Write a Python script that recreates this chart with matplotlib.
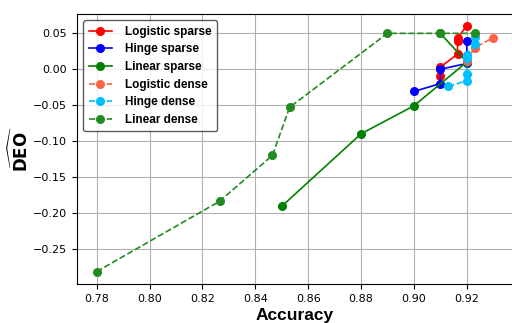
import matplotlib
matplotlib.use('Agg')
import matplotlib.pyplot as plt

# accuracy / DEO pairs
log_sparse_acc = [0.91, 0.91, 0.9165, 0.9165, 0.9165, 0.92]
log_sparse_deo = [-0.010, 0.003, 0.021, 0.040, 0.044, 0.060]
hinge_sparse_acc = [0.90, 0.91, 0.91, 0.92, 0.92]
hinge_sparse_deo = [-0.031, -0.020, 0.000, 0.008, 0.040]
lin_sparse_acc = [0.85, 0.88, 0.90, 0.92, 0.91]
lin_sparse_deo = [-0.191, -0.090, -0.051, 0.010, 0.050]
log_dense_acc = [0.92, 0.923, 0.93]
log_dense_deo = [0.012, 0.030, 0.044]
hinge_dense_acc = [0.913, 0.92, 0.92, 0.92, 0.92, 0.923, 0.923]
hinge_dense_deo = [-0.024, -0.016, -0.007, 0.015, 0.020, 0.035, 0.045]
lin_dense_acc = [0.78, 0.8265, 0.8465, 0.853, 0.89, 0.91, 0.923]
lin_dense_deo = [-0.282, -0.184, -0.120, -0.053, 0.050, 0.050, 0.050]

fig = plt.figure(figsize=(5.12, 3.23), dpi=100)
ax = fig.add_axes([0.150, 0.121, 0.852, 0.836])

ax.plot(log_sparse_acc, log_sparse_deo, '-o', color='red', ms=5.5, lw=1.2, label='Logistic sparse')
ax.plot(hinge_sparse_acc, hinge_sparse_deo, '-o', color='blue', ms=5.5, lw=1.2, label='Hinge sparse')
ax.plot(lin_sparse_acc, lin_sparse_deo, '-o', color='green', ms=5.5, lw=1.2, label='Linear sparse')
ax.plot(log_dense_acc, log_dense_deo, '--o', color='tomato', ms=5.5, lw=1.2, label='Logistic dense')
ax.plot(hinge_dense_acc, hinge_dense_deo, '--o', color='deepskyblue', ms=5.5, lw=1.2, label='Hinge dense')
ax.plot(lin_dense_acc, lin_dense_deo, '--o', color='forestgreen', ms=5.5, lw=1.2, label='Linear dense')

ax.grid(True, color='#b0b0b0', lw=0.8)
ax.set_xticks([0.78, 0.80, 0.82, 0.84, 0.86, 0.88, 0.90, 0.92])
ax.set_yticks([-0.25, -0.20, -0.15, -0.10, -0.05, 0.00, 0.05])
ax.tick_params(labelsize=8)
ax.set_xlabel('Accuracy', fontsize=12.5, fontweight='bold', family='Liberation Sans', labelpad=3)
ax.set_ylabel(r'$\widehat{\mathbf{DEO}}$', fontsize=12, labelpad=1)
ax.legend(loc='upper left', prop={'size': 8.5, 'weight': 'bold', 'family': 'Liberation Sans'},
          edgecolor='#333333', borderaxespad=0.55, labelspacing=0.48,
          handlelength=2.0, handletextpad=1.1, borderpad=0.45)

fig.savefig('out.png', dpi=100)
